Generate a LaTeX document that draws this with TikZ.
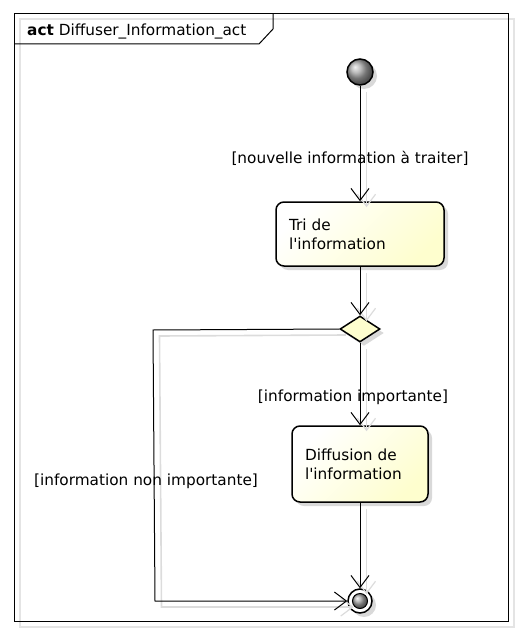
\documentclass[tikz,border=0pt]{standalone}
\usepackage{fontspec}
\setmainfont{DejaVu Sans}[Ligatures=TeXOff]
\usetikzlibrary{arrows.meta,shapes.geometric,calc,shadows}
\definecolor{boxfill}{HTML}{FEFECE}
\definecolor{lineshadow}{HTML}{DCDCDC}
\definecolor{frameshadow}{HTML}{E4E4E4}
\begin{document}
\begin{tikzpicture}[x=1pt,y=-1pt,
  txt/.style={font=\fontsize{15.3}{19}\selectfont},
  actbox/.style={draw, line width=1.5pt, rounded corners=8pt, top color=white, bottom color=boxfill, shading angle=45,
    align=left, inner xsep=13pt, inner ysep=0pt, txt,
    drop shadow={shadow xshift=4pt, shadow yshift=-4pt, fill=black!25, opacity=0.6}},
  decision/.style={draw, line width=1.5pt, diamond, inner sep=0pt, minimum width=40pt, minimum height=26pt, fill=boxfill,
    drop shadow={shadow xshift=4pt, shadow yshift=-4pt, fill=black!25, opacity=0.6}},
  startnode/.style={draw, line width=1.5pt, circle, inner sep=0pt, minimum size=26pt, ball color=gray!70,
    drop shadow={shadow xshift=4pt, shadow yshift=-4pt, fill=black!25, opacity=0.6}},
  flow/.style={draw, line width=1pt, -{Straight Barb[length=12pt,width=18pt,line width=1pt]}},
  flowshadow/.style={draw=lineshadow, line width=1.6pt, -{Straight Barb[length=12pt,width=18pt,line width=1.2pt]},
    transform canvas={shift={(6.5pt,-6pt)}}},
  guard/.style={txt, inner sep=0pt}
]
\useasboundingbox (0,0) rectangle (521,634);
% frame
\draw[frameshadow, line width=1.5pt] (20,19) rectangle (514,627);
\draw[line width=1pt] (14,14) rectangle (508,621);
\draw[line width=1pt] (14,44) -- (259,44) -- (273,29) -- (273,14);
\node[anchor=base west, inner sep=0pt, txt] (title) at (27,36) {\textbf{act} Diffuser\_Information\_act};

% nodes
\node[startnode] (start) at (360,72) {};
\node[actbox, minimum width=168pt, minimum height=64pt, text width=142pt] (tri) at (360,234) {Tri de\\l'information};
\node[decision] (dec) at (360,329) {};
\node[actbox, minimum width=136pt, minimum height=76pt, text width=110pt] (diff) at (360,464) {Diffusion de\\l'information};
\node[circle, draw, line width=1.5pt, minimum size=24pt, inner sep=0pt, fill=white,
  drop shadow={shadow xshift=4pt, shadow yshift=-4pt, fill=black!25, opacity=0.6}] (end) at (360,601) {};
\node[circle, draw, line width=1pt, minimum size=15pt, inner sep=0pt, ball color=gray!70] (endin) at (end) {};

\coordinate (c1) at (153,330);
\coordinate (c2) at (155,601);

% connector shadows
\path[flowshadow] (start.south) -- (tri.north);
\path[flowshadow] (tri.south) -- (dec.north);
\path[flowshadow] (dec.south) -- (diff.north);
\path[flowshadow] (diff.south) -- (end.north);
\path[flowshadow] (dec.west) -- (c1) -- (c2) -- (end.west);

% connectors
\path[flow] (start.south) -- (tri.north);
\path[flow] (tri.south) -- (dec.north);
\path[flow] (dec.south) -- (diff.north);
\path[flow] (diff.south) -- (end.north);
\path[flow] (dec.west) -- (c1) -- (c2) -- (end.west);

% guards
\node[guard] (g1) at (350,158) {[nouvelle information à traiter]};
\node[guard] (g2) at (353,397) {[information importante]};
\node[guard] (g3) at (146,481) {[information non importante]};
\end{tikzpicture}
\end{document}
